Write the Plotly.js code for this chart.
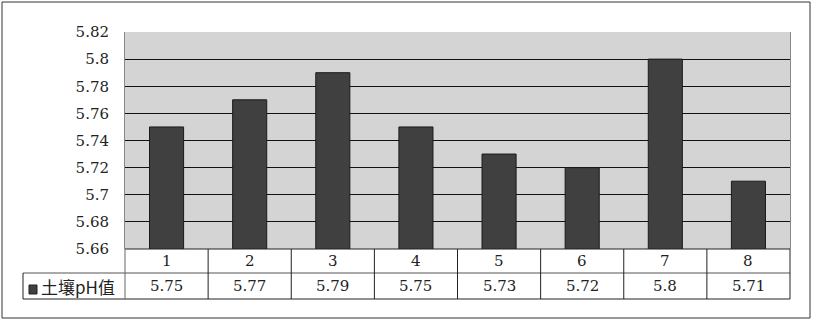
<!DOCTYPE html>
<html>
<head>
<meta charset="utf-8">
<script src="https://cdn.plot.ly/plotly-3.0.1.min.js"></script>
<style>html,body{margin:0;padding:0;background:#fff;}#chart{width:814px;height:323px;}</style>
</head>
<body>
<div id="chart"></div>
<script>
const categories = ["1","2","3","4","5","6","7","8"];
const seriesName = "土壤pH值";
const phValues = [5.75, 5.77, 5.79, 5.75, 5.73, 5.72, 5.8, 5.71];
const valueLabels = ["5.75","5.77","5.79","5.75","5.73","5.72","5.8","5.71"];
const yTickVals = [5.66, 5.68, 5.70, 5.72, 5.74, 5.76, 5.78, 5.80, 5.82];
const yTickText = ["5.66","5.68","5.7","5.72","5.74","5.76","5.78","5.8","5.82"];

const W = 814, H = 323;
const L = 125, R = 790, T = 32, B = 249;
const pw = R - L, ph = B - T;
const px = x => (x - L) / pw;      // pixel -> paper x
const py = y => (B - y) / ph;      // pixel -> paper y

const numFont = "'DejaVu Serif', 'Liberation Serif', serif";
const row1Bottom = 273, row2Bottom = 299, legendLeft = 23;

const shapes = [];
const lineC = "#222";
shapes.push({type:"rect", xref:"paper", yref:"paper", x0:px(2), x1:px(810), y0:py(318), y1:py(2), line:{color:"#333", width:1}, layer:"below"});
shapes.push({type:"line", xref:"paper", yref:"paper", x0:0, x1:1, y0:0, y1:0, line:{color:lineC, width:1}});
shapes.push({type:"line", xref:"paper", yref:"paper", x0:px(legendLeft), x1:1, y0:py(row1Bottom), y1:py(row1Bottom), line:{color:"#555", width:1}});
shapes.push({type:"line", xref:"paper", yref:"paper", x0:px(legendLeft), x1:1, y0:py(row2Bottom), y1:py(row2Bottom), line:{color:lineC, width:1}});
shapes.push({type:"line", xref:"paper", yref:"paper", x0:px(legendLeft), x1:px(legendLeft), y0:py(row1Bottom), y1:py(row2Bottom), line:{color:lineC, width:1}});
shapes.push({type:"line", xref:"paper", yref:"paper", x0:0, x1:0, y0:0, y1:py(row2Bottom), line:{color:"#666", width:1}});
shapes.push({type:"line", xref:"paper", yref:"paper", x0:1, x1:1, y0:0, y1:py(row2Bottom), line:{color:lineC, width:1}});
for (let i = 1; i < categories.length; i++) {
  shapes.push({type:"line", xref:"x", yref:"paper", x0:i-0.5, x1:i-0.5, y0:0, y1:py(row2Bottom), line:{color:lineC, width:1}});
}
shapes.push({type:"rect", xref:"paper", yref:"paper", x0:px(29), x1:px(37), y0:py(294), y1:py(285), fillcolor:"#404040", line:{color:"#202020", width:1}});

const annotations = [];
categories.forEach((c, i) => {
  annotations.push({x:i, xref:"x", y:py((B+row1Bottom)/2), yref:"paper", text:c, showarrow:false, xanchor:"center", yanchor:"middle", font:{family:numFont, size:15, color:"#222"}});
  annotations.push({x:i, xref:"x", y:py((row1Bottom+row2Bottom)/2), yref:"paper", text:valueLabels[i], showarrow:false, xanchor:"center", yanchor:"middle", font:{family:numFont, size:15, color:"#222"}});
});
annotations.push({x:px(39), xref:"paper", y:py((row1Bottom+row2Bottom)/2), yref:"paper", text:seriesName, showarrow:false, xanchor:"left", yanchor:"middle", font:{family:"'Noto Sans CJK SC', sans-serif", size:17, color:"#222"}});

const data = [{
  type:"bar", x:categories, y:phValues, name:seriesName,
  marker:{color:"#404040", line:{color:"#1a1a1a", width:1}},
  hoverinfo:"none"
}];

const layout = {
  width:W, height:H,
  margin:{l:L, r:W-R, t:T, b:H-B, pad:0},
  paper_bgcolor:"#fff", plot_bgcolor:"#d4d4d4",
  showlegend:false,
  bargap:0.59,
  xaxis:{type:"category", range:[-0.5, 7.5], showticklabels:false, showgrid:false, zeroline:false, showline:false, ticks:"", fixedrange:true},
  yaxis:{range:[5.66, 5.82], tickvals:yTickVals, ticktext:yTickText, showgrid:true, gridcolor:"#111", gridwidth:1, zeroline:false, showline:true, linecolor:"#888", linewidth:1, mirror:true, ticks:"", ticklabelstandoff:12, tickfont:{family:numFont, size:15, color:"#222"}, fixedrange:true},
  shapes:shapes, annotations:annotations
};

Plotly.newPlot("chart", data, layout, {displayModeBar:false, staticPlot:true});
</script>
</body>
</html>
